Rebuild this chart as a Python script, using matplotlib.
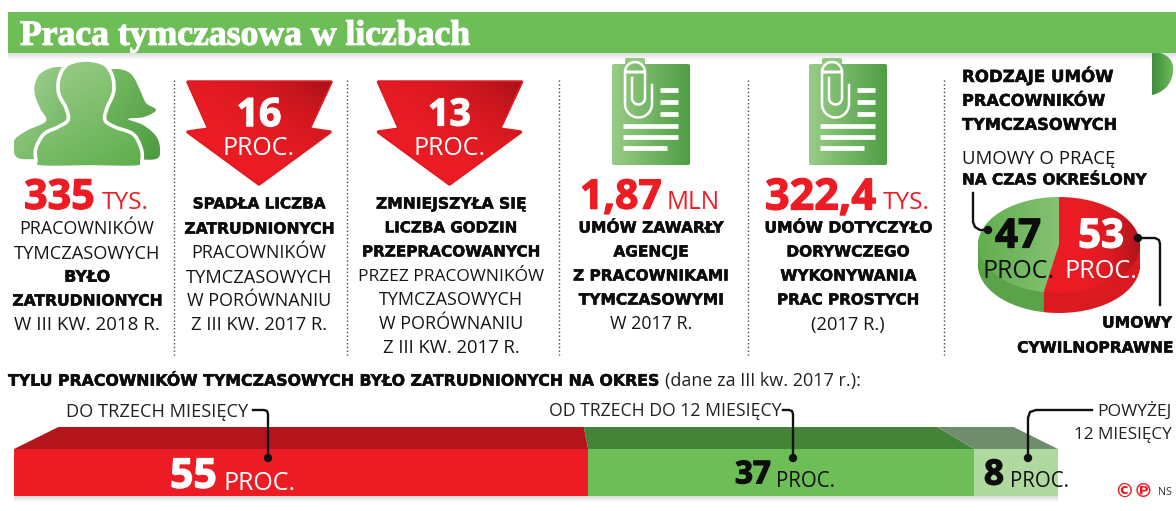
import numpy as np
import matplotlib
matplotlib.use("Agg")
import matplotlib.pyplot as plt
import matplotlib.patheffects as pe
from matplotlib.patches import Polygon, PathPatch, FancyBboxPatch, Circle
from matplotlib.path import Path
from matplotlib.colors import to_rgb

# ---------- data ----------
title = "Praca tymczasowa w liczbach"
period_labels = ["DO TRZECH MIESIĘCY", "OD TRZECH DO 12 MIESIĘCY", "POWYŻEJ", "12 MIESIĘCY"]
period_values = [55, 37, 8]
contract_values = [47, 53]
unit = "PROC."
workers = "335"
drop_employed = 16
drop_hours = 13
contracts_total = "1,87"
contracts_simple = "322,4"
col1 = ["PRACOWNIKÓW", "TYMCZASOWYCH", "BYŁO", "ZATRUDNIONYCH", "W III KW. 2018 R."]
col2 = ["SPADŁA LICZBA", "ZATRUDNIONYCH", "PRACOWNIKÓW", "TYMCZASOWYCH", "W PORÓWNANIU", "Z III KW. 2017 R."]
col3 = ["ZMNIEJSZYŁA SIĘ", "LICZBA GODZIN", "PRZEPRACOWANYCH", "PRZEZ PRACOWNIKÓW", "TYMCZASOWYCH", "W PORÓWNANIU", "Z III KW. 2017 R."]
col4 = ["UMÓW ZAWARŁY", "AGENCJE", "Z PRACOWNIKAMI", "TYMCZASOWYMI", "W 2017 R."]
col5 = ["UMÓW DOTYCZYŁO", "DORYWCZEGO", "WYKONYWANIA", "PRAC PROSTYCH", "(2017 R.)"]
side_head = ["RODZAJE UMÓW", "PRACOWNIKÓW", "TYMCZASOWYCH"]
side_sub = ["UMOWY O PRACĘ", "NA CZAS OKREŚLONY"]
side_end = ["UMOWY", "CYWILNOPRAWNE"]
bottom_head = "TYLU PRACOWNIKÓW TYMCZASOWYCH BYŁO ZATRUDNIONYCH NA OKRES"
bottom_note = "(dane za III kw. 2017 r.):"

# ---------- style ----------
RED = "#ED1C24"
GREEN = "#6DBE57"
LIGHT = "#B0D9A0"
INK = "#161616"
REG = "Open Sans"
BOLD = "DejaVu Sans"
NUM = "Open Sans"

W, H = 1176, 511
fig = plt.figure(figsize=(W / 100, H / 100), dpi=100, facecolor="white")


def box(x0, y0, x1, y1):
    return [x0 / W, 1 - y1 / H, (x1 - x0) / W, (y1 - y0) / H]


bar = fig.add_axes(box(14, 449, 1058, 496), zorder=1)
pie = fig.add_axes(box(978, 197, 1140, 313), zorder=1)
ov = fig.add_axes([0, 0, 1, 1], zorder=3)
ov.set_xlim(0, W)
ov.set_ylim(H, 0)
ov.axis("off")
ov.patch.set_alpha(0)
ov.set_autoscale_on(False)
rend = fig.canvas.get_renderer()


def put(x, y, s, w=None, ha="center", family=REG, size=13, color=INK, weight="normal", heavy=0.0):
    """Text centred vertically on its capitals; optional fit to a width in px."""
    t = ov.text(x, y, s, ha=ha, va="baseline", family=family, fontsize=size,
                color=color, weight=weight, zorder=10)
    if w is not None:
        size = size * w / t.get_window_extent(rend).width
        t.set_fontsize(size)
    t.set_y(y + 0.36 * size * 100 / 72)
    if heavy:
        t.set_path_effects([pe.withStroke(linewidth=heavy, foreground=color)])
    return t


def bold_text(x, y, s, w, ha="center"):
    return put(x, y, s, w=w, ha=ha, family=BOLD, size=11, color="#0c0c0c", weight="bold", heavy=0.35)


def big(x, y, s, w=None, ha="center", size=30, color=RED):
    return put(x, y, s, w=w, ha=ha, family=NUM, size=size, color=color, weight="bold", heavy=0.9)


def grad(ax, ext, c0, c1, clip, angle=0.0, zorder=2, gamma=1.0):
    x0, x1, y0, y1 = ext
    X, Y = np.meshgrid(np.linspace(0, 1, 80), np.linspace(0, 1, 80))
    a = np.deg2rad(angle)
    T = X * np.cos(a) + Y * np.sin(a)
    T = ((T - T.min()) / (T.max() - T.min())) ** gamma
    c0, c1 = np.array(to_rgb(c0)), np.array(to_rgb(c1))
    img = c0[None, None, :] * (1 - T[..., None]) + c1[None, None, :] * T[..., None]
    im = ax.imshow(img, extent=(x0, x1, y1, y0), origin="upper", aspect="auto",
                   interpolation="bilinear", zorder=zorder)
    if clip is not None:
        im.set_clip_path(clip)
    return im


def shadow(x0, x1, y0, y1, a=0.28, zorder=0):
    img = np.zeros((32, 2, 4))
    img[..., :3] = 0.25
    img[..., 3] = (np.linspace(a, 0, 32) ** 1.3)[:, None]
    ov.imshow(img, extent=(x0, x1, y1, y0), origin="upper", aspect="auto", zorder=zorder)


def smooth(pts, n=12):
    """Closed Catmull-Rom outline through the points."""
    P = np.array(pts, float)
    out = []
    for i in range(len(P)):
        p0, p1, p2, p3 = P[i - 1], P[i], P[(i + 1) % len(P)], P[(i + 2) % len(P)]
        for t in np.linspace(0, 1, n, endpoint=False):
            out.append(0.5 * (2 * p1 + (p2 - p0) * t + (2 * p0 - 5 * p1 + 4 * p2 - p3) * t ** 2
                              + (3 * p1 - p0 - 3 * p2 + p3) * t ** 3))
    return np.array(out)


def lead(xs, ys, dot=None):
    ov.plot(xs, ys, color="#111111", lw=1.7, solid_joinstyle="round", zorder=9)
    if dot:
        ov.add_patch(Circle(dot, 4.2, fc="#111111", ec="none", zorder=9))


# ---------- banner ----------
shadow(8, 1176, 53, 61)
ov.add_patch(Polygon([(8, 12), (1176, 12), (1176, 53), (8, 53)], fc=GREEN, ec="none", zorder=1))
fold_v = [(1152, 53), (1160, 53), (1172, 56), (1174, 66), (1173, 72), (1172, 85), (1162, 93), (1152, 95), (1152, 53)]
fold_c = [Path.MOVETO, Path.LINETO, Path.CURVE4, Path.CURVE4, Path.CURVE4, Path.CURVE4, Path.CURVE4, Path.CURVE4, Path.CLOSEPOLY]
fold = PathPatch(Path(fold_v, fold_c), fc="none", ec="none", zorder=1)
ov.add_patch(fold)
grad(ov, (1152, 1176, 53, 95), "#3F8E3C", "#72C05C", fold)
put(20, 32, title, w=451, ha="left", family="Liberation Serif", size=24, color="white", weight="bold", heavy=0.8)

# ---------- separators ----------
for sx in (174, 347, 559, 748, 944):
    ov.plot([sx, sx], [80, 355], color="#444444", lw=1.0, ls=(0, (1, 1.7)), zorder=1)

# ---------- people pictogram ----------
left_person = smooth([(13, 146), (16, 138), (28, 130), (46, 121), (40, 108), (35, 95), (35, 84), (41, 73),
                      (56, 67), (72, 70), (90, 100), (90, 150), (75, 159), (40, 159), (18, 158)])
right_person = smooth([(100, 75), (116, 69), (131, 74), (140, 90), (146, 103), (156, 110), (144, 117), (128, 119),
                       (143, 125), (156, 136), (160, 149), (156, 159), (130, 159), (90, 159), (85, 110)])
centre_person = smooth([(36, 160), (36, 148), (44, 134), (58, 127), (68, 120), (66, 108), (60, 97), (58, 88),
                        (60, 75), (68, 64), (86, 60), (104, 64), (112, 75), (114, 88), (112, 97), (107, 108),
                        (105, 120), (115, 127), (133, 134), (141, 148), (142, 160), (138, 167), (90, 167), (40, 167)])
for pts, ext, c0, c1, z in [(left_person, (14, 90, 67, 160), "#A4D196", "#5FAE4E", 2),
                            (right_person, (90, 160, 69, 160), "#7CC068", "#4E9A40", 2)]:
    p = Polygon(pts, fc="none", ec="none", zorder=z)
    ov.add_patch(p)
    grad(ov, ext, c0, c1, p, angle=45, zorder=z)
p = Polygon(centre_person, fc="none", ec="none", zorder=3)
ov.add_patch(p)
grad(ov, (36, 140, 60, 167), "#9FCE8C", "#5DAE4C", p, angle=60, zorder=3)
ov.add_patch(Polygon(centre_person, fc="none", ec="white", lw=2.6, zorder=4))
big(24, 194, workers, w=71, ha="left")
put(102, 200, "TYS.", w=47, ha="left", size=17, color=RED)

# ---------- arrows ----------
for dx, val, vw in [(0, drop_employed, 45), (190.5, drop_hours, 43)]:
    pts = [(188 + dx, 82), (331 + dx, 82), (309 + dx, 129), (330 + dx, 132), (259 + dx, 184), (188 + dx, 132), (209 + dx, 129)]
    ov.add_patch(Polygon(pts, fc="#E01A22", ec="#E01A22", lw=2.5, joinstyle="round", zorder=2))
    a = Polygon(pts, fc="none", ec="none", zorder=2)
    ov.add_patch(a)
    grad(ov, (188 + dx, 331 + dx, 82, 184), "#EE1C24", "#A91219", a, angle=-45, zorder=2, gamma=3)
    big(259 + dx, 112, str(val), w=vw, color="white")
    put(259 + dx, 146, unit, w=72, size=19, color="white")

# ---------- document pictograms ----------
for dx in (0, 197):
    tab = FancyBboxPatch((625 + dx, 58), 20, 14, boxstyle="round,pad=0,rounding_size=2", fc="#8FC97B", ec="none", zorder=2)
    ov.add_patch(tab)
    doc = FancyBboxPatch((612 + dx, 64), 78, 101, boxstyle="round,pad=0,rounding_size=2", fc="none", ec="none", zorder=2)
    ov.add_patch(doc)
    grad(ov, (612 + dx, 690 + dx, 64, 165), "#98CC86", "#4F9E45", doc)
    t = np.linspace(0, np.pi, 20)
    cx = np.r_[[652], [652], 638.5 + 13.5 * np.cos(t), [625], 635 + 10 * np.cos(t[::-1])[::-1], [645], [645], 638.5 + 6.5 * np.cos(t), [632], [632]] + dx
    cy = np.r_[[85], [104], 104 + 13.5 * np.sin(t), [72], 72 - 10 * np.sin(t), [72], [98], 98 + 6.5 * np.sin(t), [98], [78]]
    ov.plot(cx, cy, color="white", lw=1.8, zorder=3, solid_joinstyle="round")
    for lx0, lx1, ly in [(660, 678, 90), (660, 678, 102), (660, 678, 114), (623, 678, 126), (623, 678, 137), (623, 667, 148)]:
        ov.plot([lx0 + dx, lx1 + dx], [ly, ly], color="white", lw=3.4, solid_capstyle="butt", zorder=3)
big(580, 194, contracts_total, w=82, ha="left")
put(667, 200, "MLN", w=53, ha="left", size=17, color=RED)
big(765, 194, contracts_simple, w=111, ha="left")
put(883, 200, "TYS.", w=47, ha="left", size=17, color=RED)


# ---------- text columns ----------
def column(cx, ys, lines, widths, bold):
    for y, s, w, b in zip(ys, lines, widths, bold):
        if b:
            bold_text(cx, y, s, w)
        else:
            put(cx, y, s, w=w, size=13)


column(87, [228, 252, 276, 300, 323], col1, [134, 146, 46, 150, 145], [0, 0, 1, 1, 0])
column(259, [203, 228, 252, 276, 300, 323], col2, [132, 150, 134, 146, 144, 136], [1, 1, 0, 0, 0, 0])
column(451, [203, 227, 251, 275, 299, 323, 346], col3, [150, 132, 178, 185, 144, 144, 137], [1, 1, 1, 0, 0, 0, 0])
column(651, [227, 251, 275, 299, 323], col4, [145, 75, 155, 145, 82], [1, 1, 1, 1, 0])
column(848, [227, 251, 275, 299, 323], col5, [168, 123, 136, 142, 74], [1, 1, 1, 1, 0])

# ---------- side panel ----------
for y, s, w in zip([76, 100, 124], side_head, [151, 143, 155]):
    bold_text(962, y, s, w, ha="left")
put(962, 157, side_sub[0], w=153, ha="left", size=13)
bold_text(962, 179, side_sub[1], 184, ha="left")
bold_text(1172, 322, side_end[0], 70, ha="right")
bold_text(1173, 347, side_end[1], 156, ha="right")

# ---------- pie ----------
RIM = 20 / 48
for d in np.linspace(RIM, 0.02, 24):
    pie.pie(contract_values, colors=["#5AA348", "#DA1921"], startangle=90, center=(0, -d), radius=1)
wedges, _ = pie.pie(contract_values, colors=["none", "none"], startangle=90, radius=1)
pie.set_aspect("auto")
pie.set_xlim(-1, 1)
pie.set_ylim(-1 - RIM, 1)
pie.set_autoscale_on(False)
pie.set_axis_off()
grad(pie, (-1, 1, 1, -1), "#62AE50", "#A9D596", wedges[0], zorder=3)
grad(pie, (-0.3, 1, 1, -1), RED, "#A81319", wedges[1], zorder=3, gamma=4)
big(1018, 233, str(contract_values[0]), size=29, color="#0c0c0c")
put(1019, 269, unit, w=72, size=19, color="#111111")
big(1101, 233, str(contract_values[1]), size=29, color="white")
put(1101, 269, unit, w=73, size=19, color="white")
lead([973, 973, 975, 980, 988], [193, 222, 227, 230, 230], dot=(988, 230))
lead([1138, 1155, 1159, 1160, 1160], [238, 238, 240, 244, 305], dot=(1138, 238))

# ---------- stacked bar ----------
bold_text(8, 380, bottom_head, 650, ha="left")
put(665, 380, bottom_note, w=197, ha="left", size=14, color="#222222")

shadow(14, 1058, 496, 503, a=0.3)
bar_colors = [RED, GREEN, LIGHT]
top_colors = ["#B3151B", "#438438", "#6F8D6C"]
DEPTH = 22 / 47
K = 0.915
left = 0
for v, c, tc in zip(period_values, bar_colors, top_colors):
    bar.barh(0.5, v, left=left, height=1, color=c, edgecolor="none", zorder=3)
    skew = lambda q: 50 + (q - 50) * K
    poly = Polygon([(left, 1), (left + v, 1), (skew(left + v), 1 + DEPTH), (skew(left), 1 + DEPTH)],
                   fc=tc, ec="none", clip_on=False, zorder=2)
    bar.add_patch(poly)
    bar.set_autoscale_on(False)
    bar.set_xlim(0, sum(period_values))
    bar.set_ylim(0, 1)
    left += v
bar.set_axis_off()

for s, x, y, w, ha in [(period_labels[0], 66, 410, 182, "left"), (period_labels[1], 549, 410, 231, "left"),
                       (period_labels[2], 1172, 410, 74, "right"), (period_labels[3], 1172, 433, 97, "right")]:
    put(x, y, s, w=w, ha=ha, size=13, color="#222222")
lead([253, 264, 267, 268, 268], [410, 410, 411, 414, 458], dot=(268, 458))
lead([783, 789, 792, 793, 793], [410, 410, 411, 414, 458], dot=(793, 458))
lead([1092, 1036, 1030, 1028, 1028], [410, 410, 412, 418, 458], dot=(1028, 458))

big(170, 473, str(period_values[0]), w=47, ha="left", color="white")
put(224, 481, unit, w=72, ha="left", size=18, color="white")
big(735, 472, str(period_values[1]), w=36, ha="left", color="#0c0c0c")
put(776, 480, unit, w=59, ha="left", size=15, color="#111111")
big(984, 472, str(period_values[2]), w=20, ha="left", color="#0c0c0c")
put(1010, 480, unit, w=59, ha="left", size=15, color="#111111")

put(1134, 490, "©℗", family="DejaVu Sans", size=14, color=RED, weight="bold")
put(1165, 491, "NS", w=14, size=8, color="#333333")

fig.savefig("out.png", dpi=100, facecolor="white")
